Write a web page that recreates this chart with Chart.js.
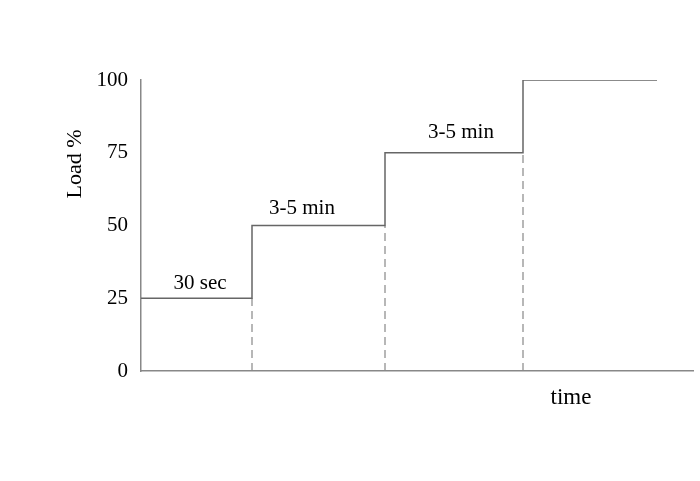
<!DOCTYPE html>
<html>
<head>
<meta charset="utf-8">
<script src="https://cdn.jsdelivr.net/npm/chart.js@4"></script>
<style>
  html, body { margin: 0; padding: 0; background: #fff; }
  #wrap { width: 700px; height: 481px; }
</style>
</head>
<body>
<div id="wrap"><canvas id="grafico" width="700" height="481"></canvas></div>
<script>
// time boundaries of each load stage (arbitrary time units)
var stageStart = [0, 111, 244, 382];
var stageEnd = [111, 244, 382, 516];
var loadLevels = [25, 50, 75, 100];
var yTicks = [0, 25, 50, 75, 100];
var xMax = 552;

// stage labels: text, position in data units
var stageLabels = ['30 sec', '3-5 min', '3-5 min'];
var stageLabelX = [59, 161, 320];
var stageLabelY = [30, 56, 82];

// step line built from the stages
var stepPoints = [];
for (var i = 0; i < loadLevels.length; i++) {
    stepPoints.push({ x: stageStart[i], y: loadLevels[i] });
    stepPoints.push({ x: stageEnd[i], y: loadLevels[i] });
}

var datasets = [{
    data: stepPoints,
    borderColor: '#666',
    borderWidth: 1.5,
    pointRadius: 0,
    fill: false
}];

// dashed drop lines at each stage change
for (var j = 1; j < stageStart.length; j++) {
    datasets.push({
        data: [{ x: stageStart[j], y: 0 }, { x: stageStart[j], y: loadLevels[j - 1] }],
        borderColor: '#888',
        borderWidth: 1.2,
        borderDash: [8, 5],
        pointRadius: 0,
        fill: false
    });
}

var serif = '"Liberation Serif", "Times New Roman", serif';

// texts on the plot: stage labels, axis titles
var textPlugin = {
    id: 'texts',
    afterDraw: function (chart) {
        var c = chart.ctx;
        var xs = chart.scales.x, ys = chart.scales.y;
        c.save();
        c.fillStyle = '#000';
        c.font = '21px ' + serif;
        c.textAlign = 'center';
        c.textBaseline = 'middle';
        for (var k = 0; k < stageLabels.length; k++) {
            c.fillText(stageLabels[k], xs.getPixelForValue(stageLabelX[k]), ys.getPixelForValue(stageLabelY[k]));
        }
        c.font = '23px ' + serif;
        c.fillText('time', xs.getPixelForValue(430), ys.bottom + 27);
        c.font = '22px ' + serif;
        c.translate(75, 164);
        c.rotate(-Math.PI / 2);
        c.fillText('Load %', 0, 0);
        c.restore();
    }
};

var ctx = document.querySelector('#grafico').getContext('2d');
var chart = new Chart(ctx, {
    type: 'line',
    data: { datasets: datasets },
    options: {
        responsive: false,
        animation: false,
        layout: { padding: { top: 80, right: 7, bottom: 102, left: 0 } },
        plugins: { legend: { display: false }, tooltip: { enabled: false } },
        scales: {
            x: {
                type: 'linear',
                min: 0,
                max: xMax,
                grid: { display: false },
                border: { display: true, color: '#888', width: 1.5 },
                ticks: { display: false }
            },
            y: {
                min: 0,
                max: 100,
                afterFit: function (s) { s.width = 141; },
                afterBuildTicks: function (s) { s.ticks = yTicks.map(function (v) { return { value: v }; }); },
                grid: { display: false },
                border: { display: true, color: '#888', width: 1.5 },
                ticks: { color: '#000', padding: 5, font: { family: serif, size: 21 } }
            }
        }
    },
    plugins: [textPlugin]
});
</script>
</body>
</html>
